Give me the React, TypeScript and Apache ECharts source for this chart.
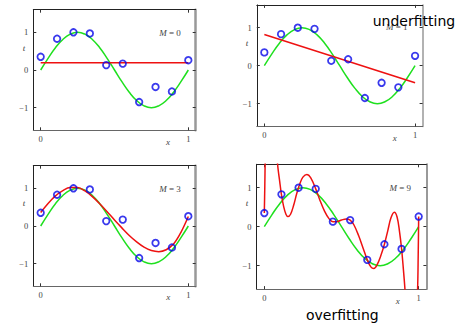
import React, { useEffect, useRef } from "react";
import * as echarts from "echarts";

// observed data points (x, t)
const xPts = [0, 0.111, 0.222, 0.333, 0.444, 0.556, 0.667, 0.778, 0.889, 1];
const tPts = [0.35, 0.83, 1.0, 0.97, 0.13, 0.17, -0.85, -0.45, -0.57, 0.26];

// green curve
const sineX = [0, 0.05, 0.1, 0.15, 0.2, 0.25, 0.3, 0.35, 0.4, 0.45, 0.5, 0.55, 0.6, 0.65, 0.7, 0.75, 0.8, 0.85, 0.9, 0.95, 1];
const sineT = [0, 0.31, 0.59, 0.81, 0.95, 1.0, 0.95, 0.81, 0.59, 0.31, 0, -0.31, -0.59, -0.81, -0.95, -1.0, -0.95, -0.81, -0.59, -0.31, 0];

// red fits
const fitM0X = [0, 1];
const fitM0T = [0.19, 0.19];
const fitM1X = [0, 1];
const fitM1T = [0.82, -0.45];
const fitM3X = [0, 0.05, 0.1, 0.15, 0.2, 0.25, 0.3, 0.35, 0.4, 0.45, 0.5, 0.55, 0.6, 0.65, 0.7, 0.75, 0.8, 0.85, 0.9, 0.95, 1];
const fitM3T = [0.36, 0.6, 0.8, 0.94, 1.02, 1.02, 0.93, 0.78, 0.59, 0.38, 0.16, -0.05, -0.25, -0.42, -0.56, -0.65, -0.68, -0.63, -0.48, -0.17, 0.25];
const fitM9X = [0, 0.003, 0.006, 0.02, 0.045, 0.07, 0.086, 0.1, 0.111, 0.125, 0.14, 0.153, 0.17, 0.19, 0.21, 0.23, 0.25, 0.276, 0.3, 0.333, 0.36, 0.39, 0.42, 0.444, 0.47, 0.5, 0.53, 0.556, 0.58, 0.61, 0.64, 0.667, 0.69, 0.71, 0.73, 0.755, 0.778, 0.8, 0.82, 0.842, 0.86, 0.875, 0.889, 0.9, 0.911, 0.93, 0.96, 0.98, 0.993, 0.997, 1];
const fitM9T = [0.35, 1.0, 1.7, 3.5, 4.0, 2.6, 1.6, 1.15, 0.82, 0.52, 0.32, 0.26, 0.32, 0.55, 0.85, 1.1, 1.27, 1.34, 1.26, 0.97, 0.68, 0.4, 0.2, 0.13, 0.13, 0.17, 0.2, 0.17, 0.05, -0.22, -0.55, -0.85, -1.03, -1.07, -0.98, -0.74, -0.45, -0.1, 0.22, 0.37, 0.25, -0.1, -0.56, -1.05, -1.6, -2.8, -3.6, -2.8, -1.6, -0.7, 0.26];

const orders = ["0", "1", "3", "9"];
const fitsX = [fitM0X, fitM1X, fitM3X, fitM9X];
const fitsT = [fitM0T, fitM1T, fitM3T, fitM9T];
const xTicks = [0, 1];
const yTicks = [-1, 0, 1];
const xRange = [-0.05, 1.05];
const yRange = [-1.6, 1.6];

const panels = [
  { left: 33.3, top: 9.7, width: 162.4, height: 120.6, rightW: 2.5, tPos: [24, 48], xPos: [168, 141.7], mPos: [170, 33.3] },
  { left: 256.8, top: 4.9, width: 165.8, height: 121.6, rightW: 1.5, tPos: [247, 43.3], xPos: [394.7, 137.7], mPos: [396.7, 27.3] },
  { left: 33.3, top: 165.7, width: 162.4, height: 120.6, rightW: 2.5, tPos: [24, 203.3], xPos: [168.3, 296.7], mPos: [170, 189] },
  { left: 256.6, top: 164.3, width: 169.8, height: 124.8, rightW: 2, tPos: [247, 203.3], xPos: [397.7, 301], mPos: [400.3, 188.3] },
];

const fmt = (v: number) => String(v).replace("-", "\u2212");
const tickFont = { fontFamily: "'Liberation Serif', 'DejaVu Serif', serif", fontSize: 8.5, color: "#444" };

function buildOption() {
  const grid: any[] = [];
  const xAxis: any[] = [];
  const yAxis: any[] = [];
  const series: any[] = [];
  const graphic: any[] = [];

  panels.forEach((p, i) => {
    grid.push({ left: p.left, top: p.top, width: p.width, height: p.height, containLabel: false });
    const common = { type: "value", gridIndex: i, min: xRange[0], max: xRange[1], splitLine: { show: false } };
    xAxis.push({
      ...common,
      position: "bottom",
      axisLine: { show: true, onZero: false, lineStyle: { color: "#666", width: 1 } },
      axisTick: { show: true, inside: true, length: 3, customValues: xTicks, lineStyle: { color: "#333" } },
      axisLabel: { show: true, margin: 4, customValues: xTicks, formatter: fmt, ...tickFont },
    });
    xAxis.push({
      ...common,
      position: "top",
      axisLine: { show: true, onZero: false, lineStyle: { color: "#222", width: 1 } },
      axisTick: { show: true, inside: true, length: 3, customValues: xTicks, lineStyle: { color: "#333" } },
      axisLabel: { show: false },
    });
    const ycommon = { type: "value", gridIndex: i, min: yRange[0], max: yRange[1], splitLine: { show: false } };
    yAxis.push({
      ...ycommon,
      position: "left",
      axisLine: { show: true, onZero: false, lineStyle: { color: "#222", width: 1 } },
      axisTick: { show: true, inside: true, length: 3, customValues: yTicks, lineStyle: { color: "#333" } },
      axisLabel: { show: true, margin: 5, customValues: yTicks, formatter: fmt, ...tickFont },
    });
    yAxis.push({
      ...ycommon,
      position: "right",
      axisLine: { show: true, onZero: false, lineStyle: { color: "#999", width: p.rightW } },
      axisTick: { show: true, inside: true, length: 3, customValues: yTicks, lineStyle: { color: "#333" } },
      axisLabel: { show: false },
    });

    series.push({
      type: "line",
      xAxisIndex: 2 * i,
      yAxisIndex: 2 * i,
      data: sineX.map((x, k) => [x, sineT[k]]),
      smooth: true,
      showSymbol: false,
      lineStyle: { color: "#1ee01e", width: 1.5 },
      z: 2,
    });
    series.push({
      type: "line",
      xAxisIndex: 2 * i,
      yAxisIndex: 2 * i,
      data: fitsX[i].map((x, k) => [x, fitsT[i][k]]),
      smooth: i >= 2 ? 0.35 : false,
      showSymbol: false,
      clip: true,
      lineStyle: { color: "#ee1111", width: 1.5 },
      z: 3,
    });
    series.push({
      type: "scatter",
      xAxisIndex: 2 * i,
      yAxisIndex: 2 * i,
      data: xPts.map((x, k) => [x, tPts[k]]),
      symbol: "circle",
      symbolSize: 6.5,
      itemStyle: { color: "rgba(255,255,255,0)", borderColor: "#0808e8", borderWidth: 1.8 },
      z: 4,
    });

    graphic.push({
      type: "text",
      x: p.tPos[0],
      y: p.tPos[1],
      style: { text: "t", fontFamily: "'Liberation Serif', serif", fontStyle: "italic", fontSize: 9, fill: "#444", align: "center", verticalAlign: "middle" },
    });
    graphic.push({
      type: "text",
      x: p.xPos[0],
      y: p.xPos[1],
      style: { text: "x", fontFamily: "'Liberation Serif', serif", fontStyle: "italic", fontSize: 9, fill: "#444", align: "center", verticalAlign: "middle" },
    });
    graphic.push({
      type: "text",
      x: p.mPos[0],
      y: p.mPos[1],
      z: 5,
      style: {
        text: "{i|M} = " + orders[i],
        fontFamily: "'Liberation Serif', serif",
        fontSize: 9,
        fill: "#444",
        align: "center",
        verticalAlign: "middle",
        rich: { i: { fontStyle: "italic", fontFamily: "'Liberation Serif', serif", fontSize: 9, fill: "#444" } },
      },
    });
  });

  graphic.push({
    type: "text",
    x: 372.7,
    y: 21,
    z: 10,
    style: { text: "underfitting", fontFamily: "'DejaVu Sans', sans-serif", fontSize: 14, fill: "#000", align: "left", verticalAlign: "middle" },
  });
  graphic.push({
    type: "text",
    x: 306,
    y: 315,
    z: 10,
    style: { text: "overfitting", fontFamily: "'DejaVu Sans', sans-serif", fontSize: 14, fill: "#000", align: "left", verticalAlign: "middle" },
  });

  return {
    animation: false,
    backgroundColor: "#fff",
    grid,
    xAxis,
    yAxis,
    series,
    graphic,
  };
}

export default function App() {
  const ref = useRef<HTMLDivElement>(null);
  useEffect(() => {
    if (!ref.current) return;
    const chart = echarts.init(ref.current, null, { renderer: "svg" });
    chart.setOption(buildOption() as any);
    return () => chart.dispose();
  }, []);
  return <div ref={ref} style={{ position: "fixed", left: 0, top: 0, width: 465, height: 323 }} />;
}
